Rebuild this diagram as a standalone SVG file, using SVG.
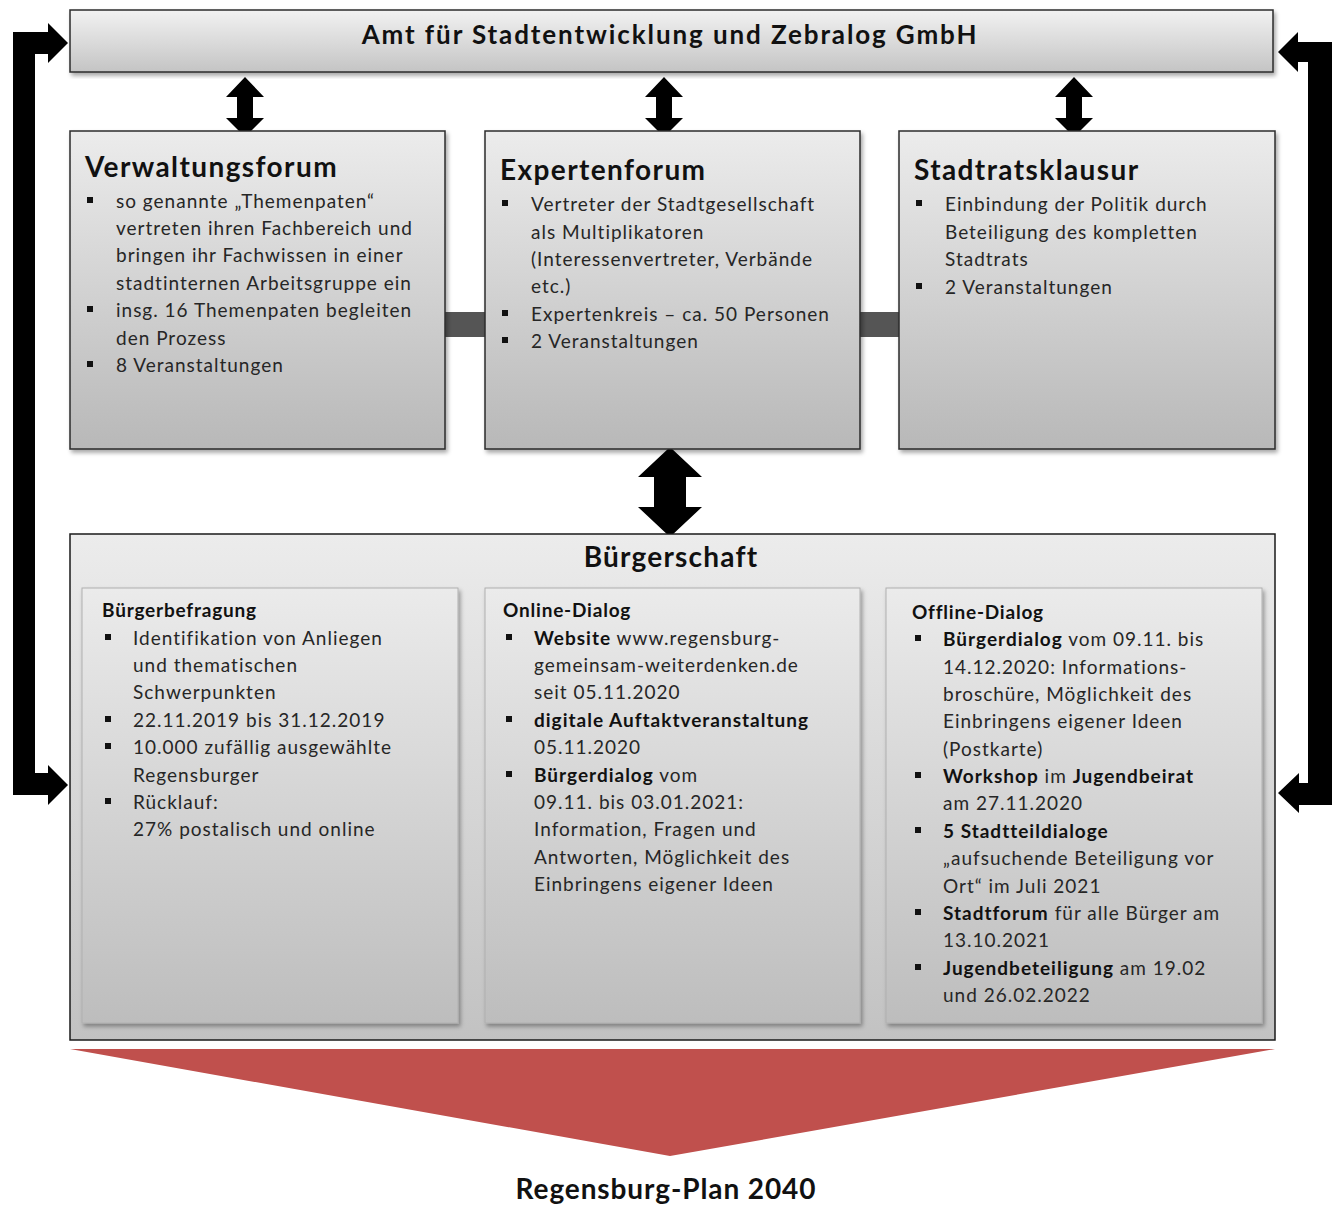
<svg xmlns="http://www.w3.org/2000/svg" xmlns:xlink="http://www.w3.org/1999/xlink" width="1335" height="1205" viewBox="0 0 1335 1205">
<defs>
<linearGradient id="gTop" x1="0" y1="0" x2="0" y2="1"><stop offset="0" stop-color="#f2f2f2"/><stop offset="1" stop-color="#c4c4c4"/></linearGradient>
<linearGradient id="gBox" x1="0" y1="0" x2="0" y2="1"><stop offset="0" stop-color="#ececec"/><stop offset="1" stop-color="#b8b8b8"/></linearGradient>
<linearGradient id="gOuter" x1="0" y1="0" x2="0" y2="1"><stop offset="0" stop-color="#ececec"/><stop offset="1" stop-color="#c2c2c2"/></linearGradient>
<linearGradient id="gInner" x1="0" y1="0" x2="0" y2="1"><stop offset="0" stop-color="#ebebeb"/><stop offset="1" stop-color="#bdbdbd"/></linearGradient>
<filter id="sh" x="-5%" y="-5%" width="110%" height="115%"><feDropShadow dx="2" dy="3" stdDeviation="2" flood-color="#000" flood-opacity="0.35"/></filter>
<rect id="blt" x="0" y="-3" width="6" height="6" fill="#111"/>
</defs>
<style>
text{font-family:Lato,"Open Sans","Liberation Sans",sans-serif;}
.title{font-size:26px;font-weight:bold;fill:#111;letter-spacing:1.9px}
.h1{font-size:28px;font-weight:bold;fill:#111;letter-spacing:1.4px}
.h1c{font-size:28px;font-weight:bold;fill:#111;letter-spacing:1.2px}
.plan{font-size:28px;font-weight:bold;fill:#111;letter-spacing:0.9px}
.h2{font-size:19px;font-weight:bold;fill:#111;letter-spacing:0.8px}
.bd{font-size:19px;fill:#262626;letter-spacing:1px}
.b{font-weight:bold;fill:#111}
.box{fill:url(#gBox);stroke:#2b2b2b;stroke-width:1.5}
.inner{fill:url(#gInner);stroke:#b0b0b0;stroke-width:1}
.link{fill:#555}
.arr{fill:#000}
</style>

<g id="connectors">
<rect class="link" x="445" y="312" width="40" height="25"/>
<rect class="link" x="860" y="312" width="40" height="25"/>
<path class="arr" d="M245,77 L264,97 L253,97 L253,118 L264,118 L245,137 L226,118 L237,118 L237,97 L226,97 Z"/>
<path class="arr" d="M664,77 L683,97 L672,97 L672,118 L683,118 L664,137 L645,118 L656,118 L656,97 L645,97 Z"/>
<path class="arr" d="M1074,77 L1093,97 L1082,97 L1082,118 L1093,118 L1074,137 L1055,118 L1066,118 L1066,97 L1055,97 Z"/>
<path class="arr" d="M670,447 L702,477 L686,477 L686,507 L702,507 L670,537 L638,507 L654,507 L654,477 L638,477 Z"/>
<path class="arr" d="M13,795 L13,32 L48,32 L48,23 L68,43 L48,63 L48,54 L35,54 L35,773 L48,773 L48,765 L68,785 L48,805 L48,795 Z"/>
<path class="arr" d="M1332,42 L1332,805 L1299,805 L1299,813 L1278,793 L1299,773 L1299,783 L1308,783 L1308,62 L1298,62 L1298,72 L1278,52 L1298,32 L1298,42 Z"/>
<polygon points="70,1049 1275,1049 670,1156" fill="#c0504d"/>
</g>

<g id="amt">
<rect x="70" y="10" width="1203" height="62" fill="url(#gTop)" stroke="#2b2b2b" stroke-width="1.5" filter="url(#sh)"/>
<text class="title" x="670" y="44" text-anchor="middle">Amt für Stadtentwicklung und Zebralog GmbH</text>
</g>

<g id="verwaltungsforum">
<rect class="box" x="70" y="131" width="375" height="318" filter="url(#sh)"/>
<text class="h1" x="85" y="177">Verwaltungsforum</text>
<use href="#blt" x="87" y="200"/>
<use href="#blt" x="87" y="309"/>
<use href="#blt" x="87" y="364"/>
<text class="bd">
<tspan x="116" y="208">so genannte  „Themenpaten“</tspan>
<tspan x="116" y="235">vertreten  ihren Fachbereich und</tspan>
<tspan x="116" y="262">bringen ihr Fachwissen in einer</tspan>
<tspan x="116" y="290">stadtinternen Arbeitsgruppe ein</tspan>
<tspan x="116" y="317">insg. 16 Themenpaten  begleiten</tspan>
<tspan x="116" y="345">den  Prozess</tspan>
<tspan x="116" y="372">8 Veranstaltungen</tspan>
</text>
</g>

<g id="expertenforum">
<rect class="box" x="485" y="131" width="375" height="318" filter="url(#sh)"/>
<text class="h1" x="500" y="180">Expertenforum</text>
<use href="#blt" x="502" y="203"/>
<use href="#blt" x="502" y="313"/>
<use href="#blt" x="502" y="340"/>
<text class="bd">
<tspan x="531" y="211">Vertreter  der Stadtgesellschaft</tspan>
<tspan x="531" y="239">als Multiplikatoren</tspan>
<tspan x="531" y="266">(Interessenvertreter,  Verbände</tspan>
<tspan x="531" y="293">etc.)</tspan>
<tspan x="531" y="321">Expertenkreis – ca. 50 Personen</tspan>
<tspan x="531" y="348">2 Veranstaltungen</tspan>
</text>
</g>

<g id="stadtratsklausur">
<rect class="box" x="899" y="131" width="376" height="318" filter="url(#sh)"/>
<text class="h1" x="914" y="180">Stadtratsklausur</text>
<use href="#blt" x="916" y="203"/>
<use href="#blt" x="916" y="286"/>
<text class="bd">
<tspan x="945" y="211">Einbindung der Politik durch</tspan>
<tspan x="945" y="239">Beteiligung des kompletten</tspan>
<tspan x="945" y="266">Stadtrats</tspan>
<tspan x="945" y="294">2 Veranstaltungen</tspan>
</text>
</g>

<g id="buergerschaft">
<rect x="70" y="534" width="1205" height="506" fill="url(#gOuter)" stroke="#1a1a1a" stroke-width="1.5"/>
<text class="h1c" x="671" y="567" text-anchor="middle">Bürgerschaft</text>
</g>

<g id="buergerbefragung">
<rect class="inner" x="82" y="588" width="376" height="435" filter="url(#sh)"/>
<text class="h2" x="102" y="617">Bürgerbefragung</text>
<use href="#blt" x="105" y="637"/>
<use href="#blt" x="105" y="719"/>
<use href="#blt" x="105" y="746"/>
<use href="#blt" x="105" y="801"/>
<text class="bd">
<tspan x="133" y="645">Identifikation von Anliegen</tspan>
<tspan x="133" y="672">und thematischen</tspan>
<tspan x="133" y="699">Schwerpunkten</tspan>
<tspan x="133" y="727">22.11.2019 bis 31.12.2019</tspan>
<tspan x="133" y="754">10.000 zufällig ausgewählte</tspan>
<tspan x="133" y="782">Regensburger</tspan>
<tspan x="133" y="809">Rücklauf:</tspan>
<tspan x="133" y="836">27% postalisch und online</tspan>
</text>
</g>

<g id="online-dialog">
<rect class="inner" x="485" y="588" width="375" height="435" filter="url(#sh)"/>
<text class="h2" x="503" y="617">Online-Dialog</text>
<use href="#blt" x="506" y="637"/>
<use href="#blt" x="506" y="719"/>
<use href="#blt" x="506" y="774"/>
<text class="bd">
<tspan x="534" y="645"><tspan class="b">Website</tspan> www.regensburg-</tspan>
<tspan x="534" y="672">gemeinsam-weiterdenken.de</tspan>
<tspan x="534" y="699">seit 05.11.2020</tspan>
<tspan x="534" y="727" class="b">digitale Auftaktveranstaltung</tspan>
<tspan x="534" y="754">05.11.2020</tspan>
<tspan x="534" y="782"><tspan class="b">Bürgerdialog</tspan>  vom</tspan>
<tspan x="534" y="809">09.11. bis 03.01.2021:</tspan>
<tspan x="534" y="836">Information, Fragen und</tspan>
<tspan x="534" y="864">Antworten,  Möglichkeit des</tspan>
<tspan x="534" y="891">Einbringens eigener Ideen</tspan>
</text>
</g>

<g id="offline-dialog">
<rect class="inner" x="886" y="588" width="376" height="435" filter="url(#sh)"/>
<text class="h2" x="912" y="619">Offline-Dialog</text>
<use href="#blt" x="915" y="638"/>
<use href="#blt" x="915" y="775"/>
<use href="#blt" x="915" y="830"/>
<use href="#blt" x="915" y="912"/>
<use href="#blt" x="915" y="967"/>
<text class="bd">
<tspan x="943" y="646"><tspan class="b">Bürgerdialog</tspan>  vom 09.11. bis</tspan>
<tspan x="943" y="674">14.12.2020: Informations-</tspan>
<tspan x="943" y="701">broschüre, Möglichkeit des</tspan>
<tspan x="943" y="728">Einbringens eigener  Ideen</tspan>
<tspan x="943" y="756">(Postkarte)</tspan>
<tspan x="943" y="783"><tspan class="b">Workshop</tspan>  im <tspan class="b">Jugendbeirat</tspan></tspan>
<tspan x="943" y="810">am 27.11.2020</tspan>
<tspan x="943" y="838" class="b">5 Stadtteildialoge</tspan>
<tspan x="943" y="865">„aufsuchende Beteiligung vor</tspan>
<tspan x="943" y="893">Ort“ im Juli 2021</tspan>
<tspan x="943" y="920"><tspan class="b">Stadtforum</tspan> für alle Bürger am</tspan>
<tspan x="943" y="947">13.10.2021</tspan>
<tspan x="943" y="975"><tspan class="b">Jugendbeteiligung</tspan>  am 19.02</tspan>
<tspan x="943" y="1002">und 26.02.2022</tspan>
</text>
</g>

<g id="regensburg-plan">
<text class="plan" x="666" y="1199" text-anchor="middle">Regensburg-Plan 2040</text>
</g>
</svg>
